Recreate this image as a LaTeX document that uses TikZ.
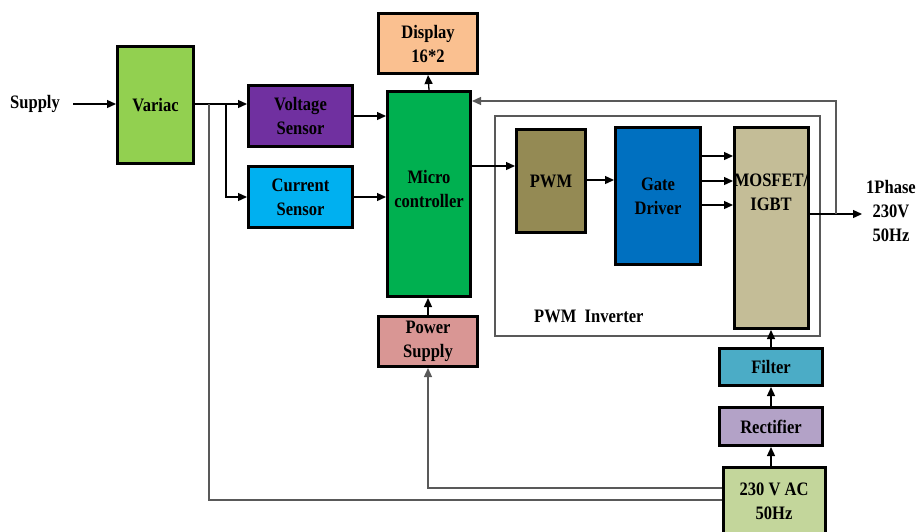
\documentclass[tikz,border=0pt]{standalone}
\usepackage{fontspec}
\setmainfont[FakeStretch=0.87]{Liberation Serif}
\usetikzlibrary{arrows.meta}
\definecolor{cVariac}{HTML}{92D050}
\definecolor{cVolt}{HTML}{7030A0}
\definecolor{cCurr}{HTML}{00B0F0}
\definecolor{cMC}{HTML}{00B050}
\definecolor{cDisp}{HTML}{FAC090}
\definecolor{cPS}{HTML}{D99694}
\definecolor{cPWM}{HTML}{948A54}
\definecolor{cGD}{HTML}{0070C0}
\definecolor{cMOS}{HTML}{C4BD97}
\definecolor{cFilt}{HTML}{4BACC6}
\definecolor{cRect}{HTML}{B3A2C7}
\definecolor{cAC}{HTML}{C3D69B}
\tikzset{
  txt/.style={font=\fontsize{19}{24}\selectfont\bfseries, align=center, inner sep=0pt},
  blk/.style={draw=black, line width=3pt, rectangle, inner sep=0pt, txt},
  arr/.style={line width=1.3pt, -{Triangle[length=9pt,width=8pt]}},
  ln/.style={line width=1.3pt},
  gln/.style={line width=1.4pt, draw=black!65},
}
\begin{document}
\begin{tikzpicture}[x=1pt,y=-1pt]
\useasboundingbox (0,0) rectangle (918,531);
% PWM inverter frame
\node[gln, draw, rectangle, minimum width=325pt, minimum height=220pt, inner sep=0pt] (inv) at (657.5,226) {};
\node[txt, anchor=west] (invlbl) at (534,316) {PWM\ \ Inverter};
% blocks
\node[blk, fill=cVariac, minimum width=76pt, minimum height=117pt] (variac) at (155.5,105) {Variac};
\node[blk, fill=cVolt, minimum width=104pt, minimum height=61pt] (vs) at (300.5,116) {Voltage\\Sensor};
\node[blk, fill=cCurr, minimum width=104pt, minimum height=61pt] (cs) at (300.5,197) {Current\\Sensor};
\node[blk, fill=cMC, minimum width=83pt, minimum height=205pt] (mc) at (429,194) {};
\node[txt] (mctxt) at (429,189) {Micro\\controller};
\node[blk, fill=cDisp, minimum width=99pt, minimum height=60pt] (disp) at (428,43.5) {Display\\16*2};
\node[blk, fill=cPS, minimum width=99pt, minimum height=50pt] (ps) at (428,341.5) {Power\\Supply};
\node[blk, fill=cPWM, minimum width=69pt, minimum height=103pt] (pwm) at (551,181) {PWM};
\node[blk, fill=cGD, minimum width=85pt, minimum height=137pt] (gd) at (658,196) {Gate\\Driver};
\node[blk, fill=cMOS, minimum width=74pt, minimum height=201pt] (mos) at (771.5,228) {};
\node[txt, fill=none] (mostxt) at (771,192) {MOSFET/\\IGBT};
\node[blk, fill=cFilt, minimum width=103pt, minimum height=37pt] (filt) at (771,367) {Filter};
\node[blk, fill=cRect, minimum width=103pt, minimum height=38pt] (rect) at (771,426.5) {Rectifier};
\node[blk, fill=cAC, minimum width=102pt, minimum height=72pt] (ac) at (774.5,503.5) {};
\node[txt] (actxt) at (774,501) {230 V AC\\50Hz};
\node[txt] (supply) at (35,104) {Supply};
\node[txt] (outlbl) at (891,211) {1Phase\\230V\\50Hz};
% coordinates
\coordinate (j1) at (209,104);
\coordinate (j2) at (226,104);
\coordinate (sup0) at (73,104);
\coordinate (out) at (862,214);
\coordinate (fb) at (836,214);
% connectors
\draw[arr] (sup0) -- (variac.west |- sup0);
\draw[ln] (variac.east |- j1) -- (j2);
\draw[arr] (j2) -- (vs.west |- j2);
\draw[arr] (j2) |- (cs.west);
\draw[arr] (vs.east) -- (vs.east -| mc.west);
\draw[arr] (cs.east) -- (cs.east -| mc.west);
\draw[arr] (mc.north) -- (disp.south);
\draw[arr] (ps.north) -- (mc.south -| ps.north);
\draw[gln] (ac.west |- 0,500) -| (j1);
\draw[arr, draw=black!65] (ac.west |- 0,488) -| (ps.south);
\draw[arr] (mc.east |- 0,166) -- (pwm.west |- 0,166);
\draw[arr] (pwm.east |- 0,180) -- (gd.west |- 0,180);
\draw[arr] (gd.east |- 0,156) -- (mos.west |- 0,156);
\draw[arr] (gd.east |- 0,181) -- (mos.west |- 0,181);
\draw[arr] (gd.east |- 0,205) -- (mos.west |- 0,205);
\draw[arr] (mos.east |- out) -- (out);
\draw[arr, draw=black!65] (fb) |- (mc.east |- 0,101);
\draw[arr] (filt.north) -- (mos.south -| filt.north);
\draw[arr] (rect.north) -- (filt.south);
\draw[arr] (ac.north -| rect.south) -- (rect.south);
\end{tikzpicture}
\end{document}
